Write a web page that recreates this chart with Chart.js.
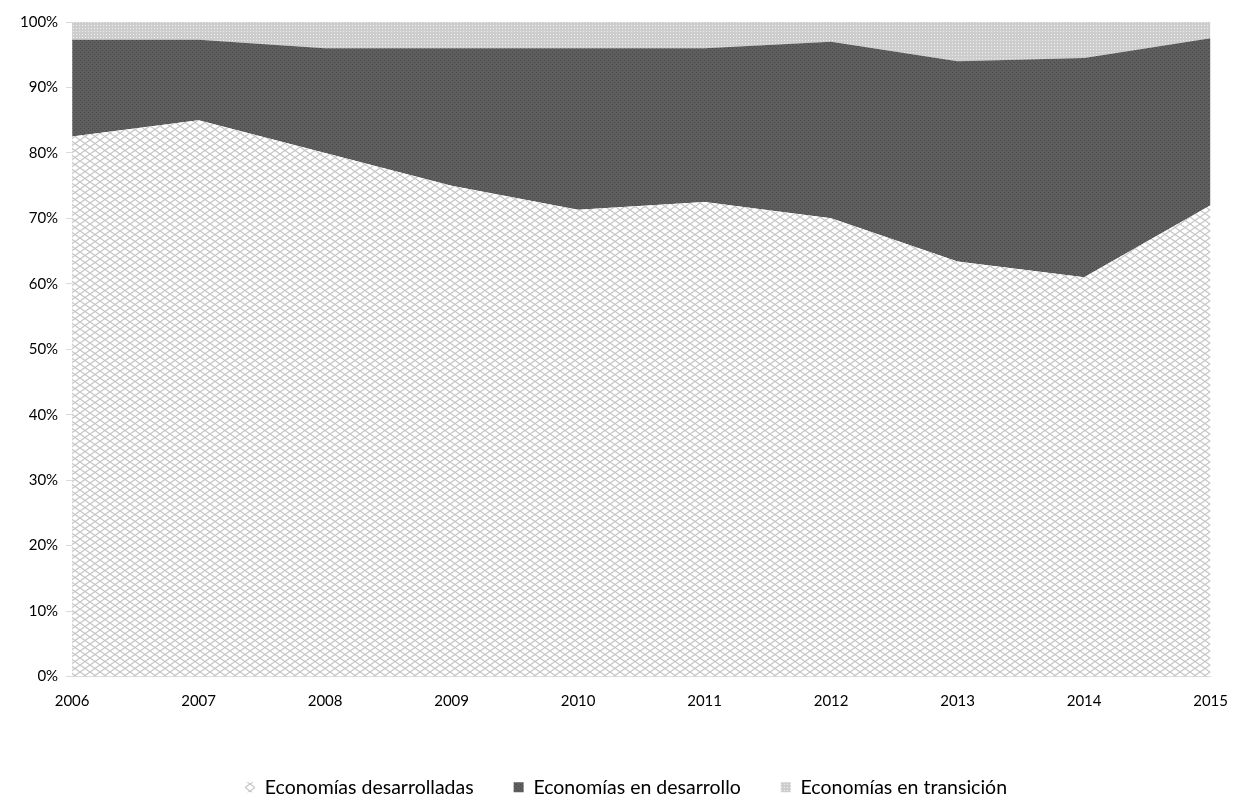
<!DOCTYPE html>
<html>
<head>
<meta charset="utf-8">
<script src="https://cdn.jsdelivr.net/npm/chart.js@4/dist/chart.umd.min.js"></script>
<style>
  html, body { margin: 0; padding: 0; background: #fff; }
  #wrap { width: 1236px; height: 797px; }
</style>
</head>
<body>
<div id="wrap"><canvas id="myChart"></canvas></div>
<script>
// years on the x axis
const years = ['2006', '2007', '2008', '2009', '2010', '2011', '2012', '2013', '2014', '2015'];

// shares of the total, in percent (each year adds up to 100)
const desarrolladas = [82.5, 85, 80, 75, 71.3, 72.5, 70, 63.4, 61, 72];
const enDesarrollo  = [14.8, 12.3, 16, 21, 24.7, 23.5, 27, 30.6, 33.5, 25.5];
const enTransicion  = [2.7, 2.7, 4, 4, 4, 4, 3, 6, 5.5, 2.5];

const seriesNames = ['Economías desarrolladas', 'Economías en desarrollo', 'Economías en transición'];

// ******** fill patterns ********
function makePattern(w, h, draw) {
  const c = document.createElement('canvas');
  c.width = w;
  c.height = h;
  const g = c.getContext('2d');
  draw(g, w, h);
  return g.createPattern(c, 'repeat');
}

const ctx = document.getElementById('myChart').getContext('2d');

// light diamond crosshatch
const hatchLight = makePattern(10, 7, (g, w, h) => {
  g.fillStyle = '#ffffff';
  g.fillRect(0, 0, w, h);
  g.strokeStyle = '#c6c6c6';
  g.lineWidth = 1.2;
  g.beginPath();
  g.moveTo(0, 0); g.lineTo(w, h);
  g.moveTo(w, 0); g.lineTo(0, h);
  g.stroke();
});

// dark gray with a fine dot grid
const dotsDark = makePattern(4, 4, (g, w, h) => {
  g.fillStyle = '#5e5e5e';
  g.fillRect(0, 0, w, h);
  g.fillStyle = '#474747';
  g.fillRect(0, 0, 1, 1);
  g.fillRect(2, 2, 1, 1);
});

// pale gray dots
const dotsLight = makePattern(3, 3, (g, w, h) => {
  g.fillStyle = '#cdcdcd';
  g.fillRect(0, 0, w, h);
  g.fillStyle = '#ededed';
  g.fillRect(1, 1, 1, 1);
});

// nudge the legend row a bit to the right of the canvas centre
const legendShift = {
  id: 'legendShift',
  afterLayout(chart) {
    chart.legend.left += 12;
    chart.legend.right += 12;
  }
};

const tickFont = { family: 'Lato', size: 15 };

const chart = new Chart(ctx, {
  type: 'line',
  data: {
    labels: years,
    datasets: [
      {
        label: seriesNames[0],
        data: desarrolladas,
        backgroundColor: hatchLight,
        borderColor: 'rgba(0,0,0,0)',
        borderWidth: 0,
        pointRadius: 0,
        fill: 'origin',
        tension: 0
      },
      {
        label: seriesNames[1],
        data: enDesarrollo,
        backgroundColor: dotsDark,
        borderColor: 'rgba(0,0,0,0)',
        borderWidth: 0,
        pointRadius: 0,
        fill: '-1',
        tension: 0
      },
      {
        label: seriesNames[2],
        data: enTransicion,
        backgroundColor: dotsLight,
        borderColor: 'rgba(0,0,0,0)',
        borderWidth: 0,
        pointRadius: 0,
        fill: '-1',
        tension: 0
      }
    ]
  },
  options: {
    responsive: true,
    maintainAspectRatio: false,
    animation: false,
    layout: { padding: { top: 22, right: 20, left: 12, bottom: -10 } },
    plugins: {
      legend: {
        position: 'bottom',
        labels: {
          color: '#000',
          font: { family: 'Lato', size: 19.5 },
          boxWidth: 10,
          boxHeight: 10,
          padding: 40
        }
      },
      tooltip: { enabled: false }
    },
    scales: {
      x: {
        offset: false,
        grid: { display: false, drawOnChartArea: false },
        border: { color: '#d9d9d9', width: 1 },
        ticks: { color: '#000', font: tickFont, maxRotation: 0, padding: 8 },
        afterFit: (scale) => { scale.height += 19; }
      },
      y: {
        stacked: true,
        min: 0,
        max: 100,
        grid: { display: true, drawOnChartArea: false, drawTicks: true, tickLength: 6, color: '#d9d9d9' },
        border: { color: '#d9d9d9', width: 1 },
        ticks: {
          stepSize: 10,
          color: '#000',
          font: tickFont,
          padding: 8,
          callback: (v) => v + '%'
        }
      }
    }
  },
  plugins: [legendShift]
});
</script>
</body>
</html>
